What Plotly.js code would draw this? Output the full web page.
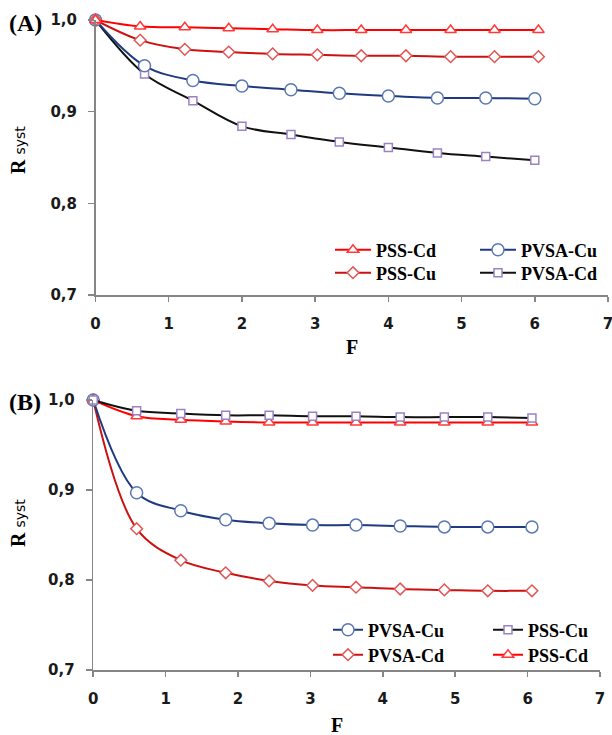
<!DOCTYPE html>
<html>
<head>
<meta charset="utf-8">
<script src="https://cdn.plot.ly/plotly-3.0.1.min.js"></script>
<style>html,body{margin:0;padding:0;background:#fff;}#chart{width:612px;height:735px;}</style>
</head>
<body>
<div id="chart"></div>
<script>
// ---------- data ----------
// Panel (A)
const xA_PSS  = [0, 0.61, 1.22, 1.82, 2.42, 3.03, 3.63, 4.24, 4.85, 5.45, 6.05];
const xA_PVSA = [0, 0.67, 1.33, 2.0, 2.67, 3.33, 4.0, 4.67, 5.33, 6.0];
const yA_PSS_Cd  = [1.0, 0.993, 0.992, 0.991, 0.990, 0.989, 0.989, 0.989, 0.989, 0.989, 0.989];
const yA_PSS_Cu  = [1.0, 0.978, 0.968, 0.965, 0.963, 0.962, 0.961, 0.961, 0.960, 0.960, 0.960];
const yA_PVSA_Cu = [1.0, 0.950, 0.934, 0.928, 0.924, 0.920, 0.917, 0.915, 0.915, 0.914];
const yA_PVSA_Cd = [1.0, 0.941, 0.912, 0.884, 0.875, 0.867, 0.861, 0.855, 0.851, 0.847];
// Panel (B)
const xB = [0, 0.60, 1.21, 1.83, 2.43, 3.03, 3.63, 4.24, 4.85, 5.45, 6.06];
const yB_PVSA_Cu = [1.0, 0.897, 0.877, 0.867, 0.863, 0.861, 0.861, 0.860, 0.859, 0.859, 0.859];
const yB_PVSA_Cd = [1.0, 0.857, 0.822, 0.808, 0.799, 0.794, 0.792, 0.790, 0.789, 0.788, 0.788];
const yB_PSS_Cu  = [1.0, 0.988, 0.985, 0.983, 0.983, 0.982, 0.982, 0.981, 0.981, 0.981, 0.980];
const yB_PSS_Cd  = [1.0, 0.982, 0.978, 0.976, 0.975, 0.975, 0.975, 0.975, 0.975, 0.975, 0.975];
// ticks
const xTicks = [0, 1, 2, 3, 4, 5, 6, 7];
const yTicks = [0.7, 0.8, 0.9, 1.0];

// ---------- styles ----------
const ST = {
  triRed:  {line:'#ff0000', edge:'#ff3a3a', symbol:'triangle-up'},
  diaRed:  {line:'#cc1111', edge:'#e25555', symbol:'diamond'},
  cirBlue: {line:'#1f3a80', edge:'#5a78b4', symbol:'circle'},
  sqBlack: {line:'#111111', edge:'#9a82c4', symbol:'square'}
};
function tr(name, x, y, st, size, xa, ya, leg) {
  return {
    type:'scatter', mode:'lines+markers', name:name, x:x, y:y,
    xaxis:xa, yaxis:ya, legend:leg, cliponaxis:false,
    line:{color:st.line, width:2, shape:'spline', smoothing:1},
    marker:{symbol:st.symbol, size:size, color:'#ffffff', line:{color:st.edge, width:1.5}}
  };
}
const data = [
  tr('PVSA-Cd', xA_PVSA, yA_PVSA_Cd, ST.sqBlack, 8, 'x', 'y', 'legend4'),
  tr('PVSA-Cu', xA_PVSA, yA_PVSA_Cu, ST.cirBlue, 12, 'x', 'y', 'legend3'),
  tr('PSS-Cu',  xA_PSS,  yA_PSS_Cu,  ST.diaRed, 9, 'x', 'y', 'legend2'),
  tr('PSS-Cd',  xA_PSS,  yA_PSS_Cd,  ST.triRed, 10, 'x', 'y', 'legend'),
  tr('PVSA-Cd', xB, yB_PVSA_Cd, ST.diaRed, 9, 'x2', 'y2', 'legend6'),
  tr('PVSA-Cu', xB, yB_PVSA_Cu, ST.cirBlue, 12, 'x2', 'y2', 'legend5'),
  tr('PSS-Cd',  xB, yB_PSS_Cd,  ST.triRed, 10, 'x2', 'y2', 'legend8'),
  tr('PSS-Cu',  xB, yB_PSS_Cu,  ST.sqBlack, 8, 'x2', 'y2', 'legend7')
];

// ---------- layout ----------
const W = 612, H = 735;
const px = v => v / W, py = v => (H - v) / H;
const tickFont = {family:'DejaVu Sans', size:15, weight:'bold', color:'#1a1a1a'};
const serifB = {family:'Liberation Serif', size:20, weight:'bold', color:'#000'};
function xAxis(dom, anchor) {
  return {domain:dom, anchor:anchor, range:[0,7], tickvals:xTicks, tickformat:'d',
    showline:true, linecolor:'#868686', linewidth:1.5, ticks:'outside', ticklen:5,
    tickwidth:1.5, tickcolor:'#868686', showgrid:false, zeroline:false,
    tickfont:tickFont, ticklabelstandoff:9, ticklabeloverflow:'allow',
    automargin:false, fixedrange:true};
}
function yAxis(dom, anchor) {
  return {domain:dom, anchor:anchor, range:[0.7,1.0], tickvals:yTicks, tickformat:'.1f',
    showline:true, linecolor:'#868686', linewidth:1.5, ticks:'outside', ticklen:6,
    tickwidth:1.5, tickcolor:'#868686', showgrid:false, zeroline:false,
    tickfont:tickFont, ticklabelstandoff:8, ticklabeloverflow:'allow',
    automargin:false, fixedrange:true};
}
function leg(x, y, iw) {
  return {x:px(x), y:py(y), xanchor:'left', yanchor:'middle', orientation:'v',
    bgcolor:'rgba(0,0,0,0)', borderwidth:0, itemwidth:iw, tracegroupgap:0,
    font:{family:'Liberation Serif', size:18, weight:'bold', color:'#000'}};
}
function ann(text, x, y, font, angle) {
  return {text:text, xref:'paper', yref:'paper', x:px(x), y:py(y),
    xanchor:'center', yanchor:'middle', showarrow:false, font:font, textangle:angle || 0};
}
const ytitle = 'R <span style="font-family:DejaVu Sans;font-size:14px;font-weight:normal">syst</span>';
const panelFont = {family:'Liberation Serif', size:24, weight:'bold', color:'#000'};
const layout = {
  width:W, height:H, separators:',.', showlegend:true,
  paper_bgcolor:'#ffffff', plot_bgcolor:'#ffffff',
  margin:{l:0, r:0, t:0, b:0, pad:0, autoexpand:false},
  xaxis:  xAxis([px(95.5), px(608)], 'y'),
  yaxis:  yAxis([py(295), py(20)], 'x'),
  xaxis2: xAxis([px(93.2), px(600)], 'y2'),
  yaxis2: yAxis([py(670), py(400)], 'x2'),
  legend:  leg(330, 250, 36),
  legend2: leg(330, 273, 36),
  legend3: leg(475, 250, 36),
  legend4: leg(475, 273, 36),
  legend5: leg(328, 630, 30),
  legend6: leg(328, 655, 30),
  legend7: leg(488, 630, 30),
  legend8: leg(488, 655, 30),
  annotations: [
    ann('(A)', 25, 23, panelFont),
    ann('(B)', 25, 402, panelFont),
    ann(ytitle, 18, 150, serifB, -90),
    ann(ytitle, 18, 523, serifB, -90),
    ann('F', 352, 347, serifB),
    ann('F', 337, 725, serifB)
  ]
};
Plotly.newPlot('chart', data, layout, {staticPlot:true, displayModeBar:false});
</script>
</body>
</html>
